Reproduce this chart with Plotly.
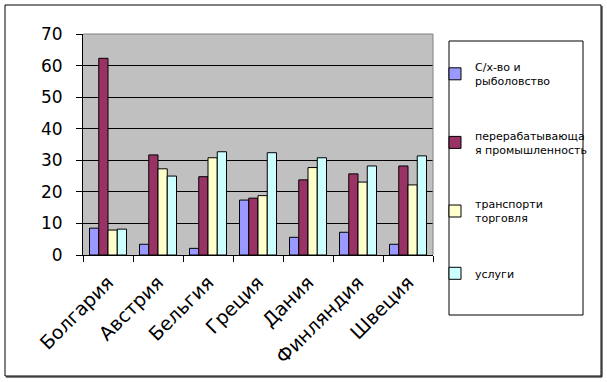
import plotly.graph_objects as go

countries = ["Болгария", "Австрия", "Бельгия", "Греция", "Дания", "Финляндия", "Швеция"]
series_names = ["С/х-во и<br>рыболовство", "перерабатывающа<br>я промышленность", "транспорти<br>торговля", "услуги"]
agri = [8.5, 3.4, 2.1, 17.4, 5.6, 7.2, 3.4]
manuf = [62.3, 31.7, 24.8, 18.0, 23.8, 25.7, 28.2]
trade = [7.9, 27.3, 30.8, 18.8, 27.7, 23.1, 22.2]
services = [8.2, 25.0, 32.7, 32.4, 30.8, 28.2, 31.4]
colors = ["#9999FF", "#993366", "#FFFFCC", "#CCFFFF"]
y_ticks = [0, 10, 20, 30, 40, 50, 60, 70]

W, H = 607, 382
L, R, T, B = 83, 174, 34, 127
pw, ph = W - L - R, H - T - B

def px_x(x):
    return (x - L) / pw

def px_y(y):
    return (H - B - y) / ph

fig = go.Figure()
for i, (name, vals) in enumerate(zip(series_names, [agri, manuf, trade, services])):
    fig.add_trace(go.Bar(
        x=countries, y=vals, name=name, legendgroup=f"g{i}",
        marker=dict(color=colors[i], line=dict(color="black", width=1)),
    ))

# invisible trace for crossing tick marks on the y axis
fig.add_trace(go.Scatter(x=countries, y=[None] * len(countries), yaxis="y2",
                         showlegend=False, hoverinfo="skip"))

font = "DejaVu Sans"
fig.update_layout(
    width=W, height=H,
    margin=dict(l=L, r=R, t=T, b=B, autoexpand=False),
    paper_bgcolor="white",
    plot_bgcolor="#C0C0C0",
    barmode="group",
    bargap=0.26,
    bargroupgap=0,
    font=dict(family=font, color="black"),
    xaxis=dict(
        type="category", tickson="boundaries", ticks="outside", ticklen=6,
        tickcolor="black", tickwidth=1, tickangle=-45, ticklabelstandoff=8,
        tickfont=dict(size=19, family=font), showline=True, linecolor="black",
        linewidth=1, showgrid=False, zeroline=False, automargin=False,
    ),
    yaxis=dict(
        range=[0, 70], tickvals=y_ticks, ticks="outside", ticklen=6,
        tickcolor="black", tickwidth=1, tickfont=dict(size=17, family=font),
        ticklabelstandoff=10, automargin=False,
        showline=True, linecolor="black", linewidth=1,
        showgrid=True, gridcolor="black", gridwidth=1, zeroline=False,
    ),
    yaxis2=dict(
        range=[0, 70], tickvals=y_ticks, overlaying="y", side="left",
        ticks="inside", ticklen=6, tickcolor="black", showticklabels=False,
        showgrid=False, zeroline=False, showline=False, automargin=False,
    ),
    legend=dict(
        x=px_x(435), xanchor="left", y=px_y(53), yanchor="top",
        font=dict(size=11, family=font), tracegroupgap=37, maxheight=300,
        bgcolor="rgba(0,0,0,0)", borderwidth=0,
    ),
    showlegend=True,
)

shapes = [
    # plot area top/right grey border
    dict(type="line", xref="paper", yref="paper", x0=0, x1=1, y0=1, y1=1,
         line=dict(color="#808080", width=1)),
    dict(type="line", xref="paper", yref="paper", x0=1, x1=1, y0=0, y1=1,
         line=dict(color="#808080", width=1)),
    # legend box
    dict(type="rect", xref="paper", yref="paper", x0=px_x(449), x1=px_x(583),
         y0=px_y(315), y1=px_y(41), line=dict(color="black", width=1)),
    # outer chart frame
    dict(type="rect", xref="paper", yref="paper", x0=px_x(5), x1=px_x(601),
         y0=px_y(376), y1=px_y(5), line=dict(color="black", width=1)),
    dict(type="line", xref="paper", yref="paper", x0=px_x(602), x1=px_x(602),
         y0=px_y(377), y1=px_y(6), line=dict(color="black", width=1)),
    dict(type="line", xref="paper", yref="paper", x0=px_x(6), x1=px_x(602),
         y0=px_y(377), y1=px_y(377), line=dict(color="black", width=1)),
]
fig.update_layout(shapes=shapes)

fig.write_html("out.html", config={"displayModeBar": False},
               post_script="document.body.style.margin='0';document.body.style.overflow='hidden';")
